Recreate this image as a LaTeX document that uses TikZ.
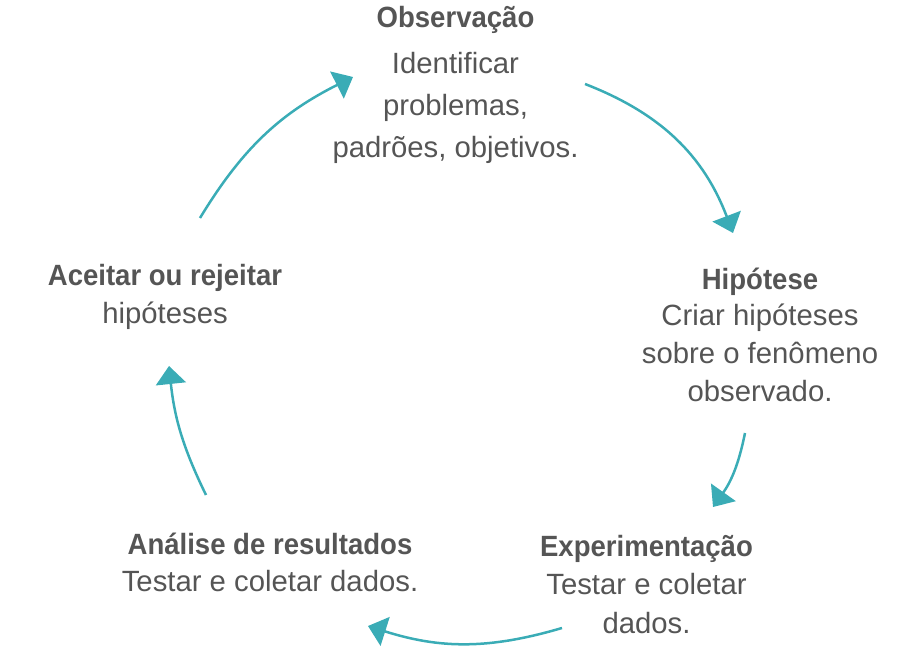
\documentclass[tikz,border=0pt]{standalone}
\usepackage{fontspec}
\setmainfont{Liberation Sans}
\newfontface\titlef{Liberation Sans Bold}[FakeStretch=0.94]
\usetikzlibrary{arrows.meta}
\definecolor{teal1}{RGB}{58,172,182}
\definecolor{txt}{RGB}{85,85,85}
\tikzset{
  label/.style={anchor=base, align=center, text=txt, inner sep=0pt,
    font=\fontsize{29.3}{38}\selectfont},
  cyc/.style={draw=teal1, line width=2.5pt, -{Triangle[length=18pt,width=30pt]}}
}
\begin{document}
\begin{tikzpicture}[x=1pt,y=1pt]
\useasboundingbox (0,0) rectangle (920,652);
\node[label] (obs) at (455.5,494) {{\titlef Observação}\\[8pt]Identificar\\[4pt]problemas,\\[4pt]padrões, objetivos.};
\node[label] (hip) at (760,250) {{\titlef Hipótese}\\[-2pt]Criar hipóteses\\sobre o fenômeno\\observado.};
\node[label] (exp) at (646.5,18) {{\titlef Experimentação}\\[0pt]Testar e coletar\\[1pt]dados.};
\node[label] (ana) at (270,60) {{\titlef Análise de resultados}\\[-1pt]Testar e coletar dados.};
\node[label] (ace) at (165,328) {{\titlef Aceitar ou rejeitar}\\hipóteses};
\coordinate (a1s) at (200,434); \coordinate (a1e) at (353,575);
\coordinate (a2s) at (585,568); \coordinate (a2e) at (733,419);
\coordinate (a3s) at (745,219); \coordinate (a3e) at (713,145);
\coordinate (a4s) at (562,24);  \coordinate (a4e) at (368,26);
\coordinate (a5s) at (206,157); \coordinate (a5e) at (169,286);
\draw[cyc] (a1s) to[bend left=16] (a1e);
\draw[cyc] (a2s) to[bend left=24] (a2e);
\draw[cyc] (a3s) to[bend left=12] (a3e);
\draw[cyc] (a4s) to[bend left=17] (a4e);
\draw[cyc] (a5s) to[bend left=10] (a5e);
\end{tikzpicture}
\end{document}
